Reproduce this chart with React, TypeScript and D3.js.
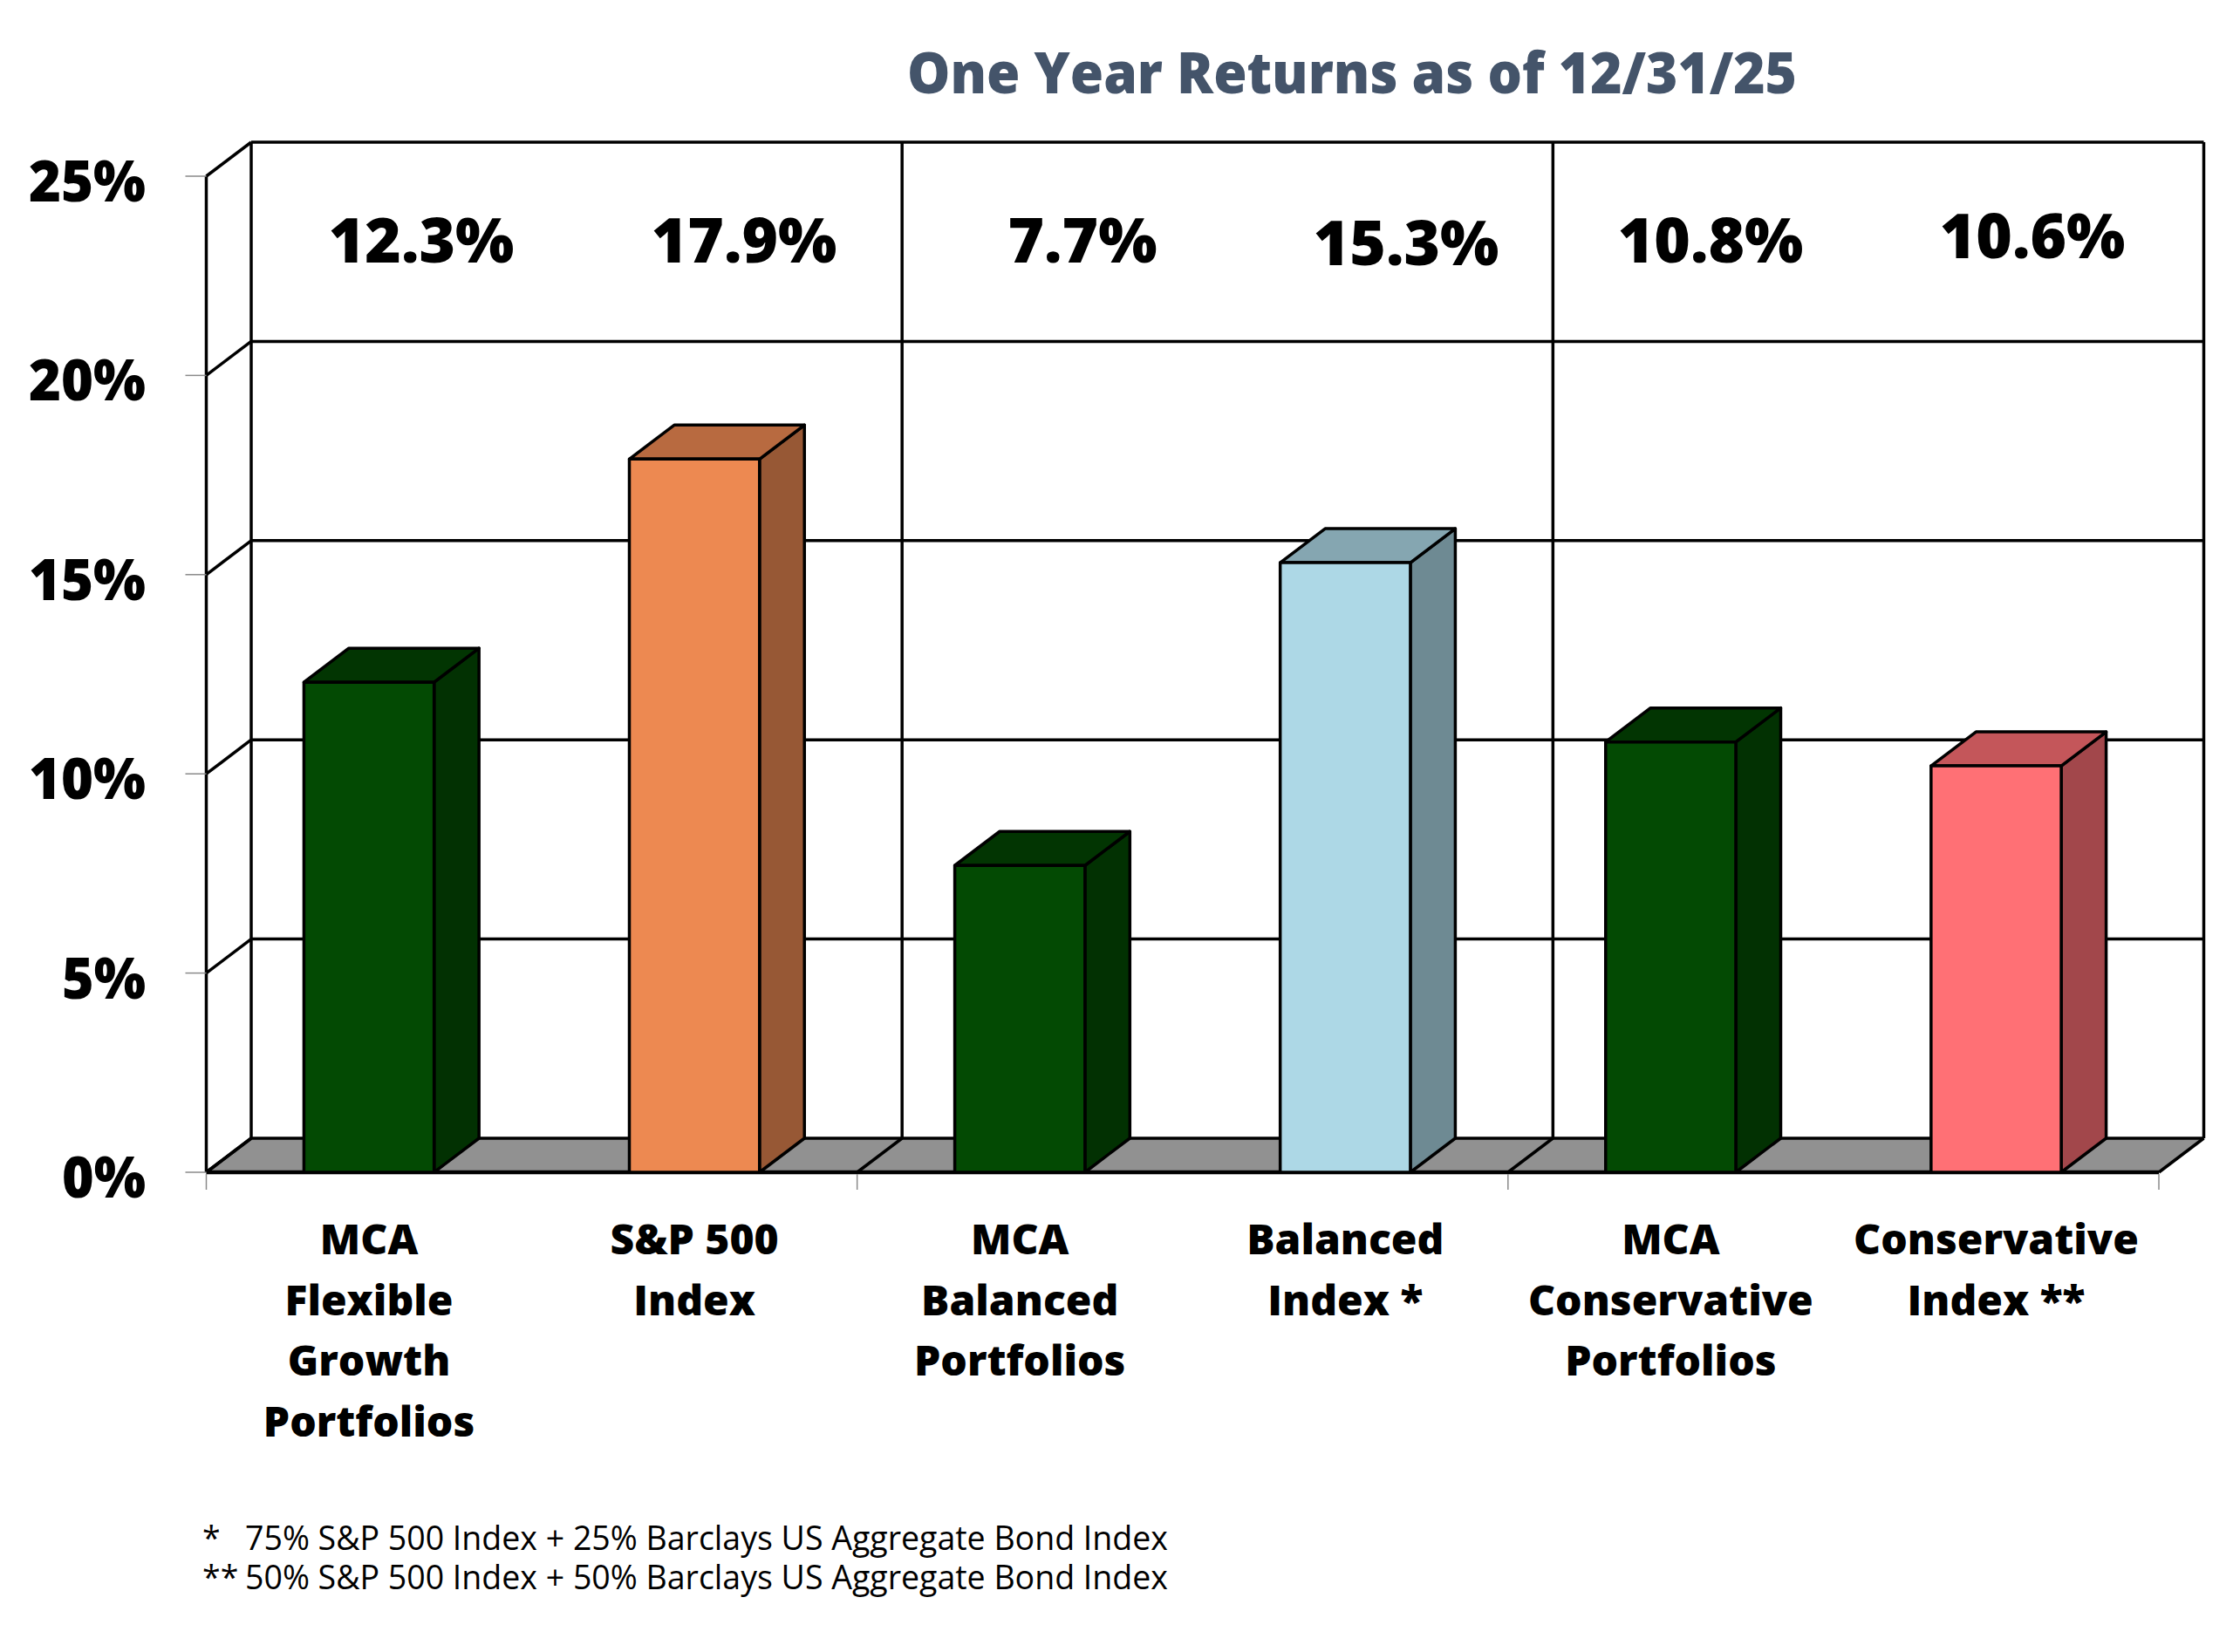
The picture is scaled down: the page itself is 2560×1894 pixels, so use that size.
import React from "react";
import * as d3 from "d3";

const categories = ["mca-flex", "sp500", "mca-bal", "bal-idx", "mca-cons", "cons-idx"];
const categoryLines = [
  ["MCA", "Flexible", "Growth", "Portfolios"],
  ["S&P 500", "Index"],
  ["MCA", "Balanced", "Portfolios"],
  ["Balanced", "Index *"],
  ["MCA", "Conservative", "Portfolios"],
  ["Conservative", "Index **"],
];
const barValues = [12.3, 17.9, 7.7, 15.3, 10.8, 10.2];
const valueLabels = ["12.3%", "17.9%", "7.7%", "15.3%", "10.8%", "10.6%"];
const labelBaselines = [301, 301, 301, 304, 301, 296];
const labelCenters = [483, 853, 1241, 1612, 1961, 2330];
const frontFills = ["#034a03", "#ed8951", "#034a03", "#add8e6", "#034a03", "#ff7075"];
const sideFills = ["#023102", "#975835", "#023102", "#6e8a93", "#023102", "#a2474b"];
const topFills = ["#023502", "#b86a40", "#023502", "#85a6b1", "#023502", "#c4565a"];
const yTicks = [0, 5, 10, 15, 20, 25];
const groupEdges = [0, 2, 4, 6];
const footnotes = [
  ["*", "75% S&P 500 Index + 25% Barclays US Aggregate Bond Index"],
  ["**", "50% S&P 500 Index + 50% Barclays US Aggregate Bond Index"],
];

const W = 2560, H = 1894;
const DX = 51.5, DY = -39;
const FONT = "'Open Sans', sans-serif";

export default function App() {
  const y = d3.scaleLinear().domain([0, 25]).range([1344, 202]);
  const edge = d3.scaleLinear().domain([0, 6]).range([236.5, 2475]);
  const x = d3.scaleBand().domain(categories).range([236.5, 2475]).paddingInner(0.6).paddingOuter(0.3);
  const bw = x.bandwidth();
  const pts = (a: number[][]) => a.map((p) => p.join(",")).join(" ");
  const x0 = edge(0), x1 = edge(6), y0 = y(0), y25 = y(25);
  return (
    <svg width={W} height={H} viewBox={`0 0 ${W} ${H}`} style={{ position: "absolute", left: 0, top: 0, display: "block", background: "#fff" }}>
      <text x={1550} y={107} textAnchor="middle" fontFamily={FONT} fontWeight={800} fontSize={65} fill="#44546a" textLength={1020} lengthAdjust="spacingAndGlyphs">One Year Returns as of 12/31/25</text>

      {/* floor */}
      <polygon points={pts([[x0, y0], [x0 + DX, y0 + DY], [x1 + DX, y0 + DY], [x1, y0]])} fill="#919191" stroke="none" />

      {/* walls */}
      <g stroke="#000" strokeWidth={3.5} fill="none">
        {yTicks.map((t) => (
          <g key={t}>
            <line x1={x0 + DX} x2={x1 + DX} y1={y(t) + DY} y2={y(t) + DY} />
            <line x1={x0} x2={x0 + DX} y1={y(t)} y2={y(t) + DY} />
          </g>
        ))}
        <line x1={x0} x2={x0} y1={y25} y2={y0} />
        {groupEdges.map((g) => (
          <g key={g}>
            <line x1={edge(g) + DX} x2={edge(g) + DX} y1={y25 + DY} y2={y0 + DY} />
            <line x1={edge(g)} x2={edge(g) + DX} y1={y0} y2={y0 + DY} />
          </g>
        ))}
        <line x1={x0} x2={x1} y1={y0} y2={y0} strokeWidth={4.5} />
      </g>

      {/* ticks */}
      <g stroke="#8a8a8a" strokeWidth={1.5}>
        {yTicks.map((t) => <line key={t} x1={x0 - 24} x2={x0} y1={y(t)} y2={y(t)} />)}
        {groupEdges.map((g) => <line key={g} x1={edge(g)} x2={edge(g)} y1={y0 + 2} y2={y0 + 20} />)}
      </g>

      {/* bars */}
      <g stroke="#000" strokeWidth={3.5} strokeLinejoin="round">
        {categories.map((c, i) => {
          const l = x(c) as number, r = l + bw, t = y(barValues[i]);
          return (
            <g key={c}>
              <polygon points={pts([[r, t], [r + DX, t + DY], [r + DX, y0 + DY], [r, y0]])} fill={sideFills[i]} />
              <polygon points={pts([[l, t], [l + DX, t + DY], [r + DX, t + DY], [r, t]])} fill={topFills[i]} />
              <rect x={l} y={t} width={bw} height={y0 - t} fill={frontFills[i]} />
            </g>
          );
        })}
      </g>

      {/* y labels */}
      <g fontFamily={FONT} fontWeight={800} fontSize={66} fill="#000" textAnchor="end">
        {yTicks.map((t) => (
          <text key={t} x={167} y={y(t) + 29} textLength={t < 10 ? 96 : 134} lengthAdjust="spacingAndGlyphs">{t}%</text>
        ))}
      </g>

      {/* value labels */}
      <g fontFamily={FONT} fontWeight={800} fontSize={71} fill="#000" textAnchor="middle">
        {valueLabels.map((v, i) => <text key={i} x={labelCenters[i]} y={labelBaselines[i]}>{v}</text>)}
      </g>

      {/* category labels */}
      <g fontFamily={FONT} fontWeight={800} fontSize={48} fill="#000" textAnchor="middle">
        {categories.map((c, i) => {
          const cx = (x(c) as number) + bw / 2;
          return categoryLines[i].map((ln, j) => <text key={c + j} x={cx} y={1438 + j * 69.5}>{ln}</text>);
        })}
      </g>

      {/* footnotes */}
      <g fontFamily={FONT} fontSize={37.5} fill="#000">
        {footnotes.map((f, i) => (
          <g key={i}>
            <text x={232} y={1777 + i * 45}>{f[0]}</text>
            <text x={281} y={1777 + i * 45}>{f[1]}</text>
          </g>
        ))}
      </g>
    </svg>
  );
}
